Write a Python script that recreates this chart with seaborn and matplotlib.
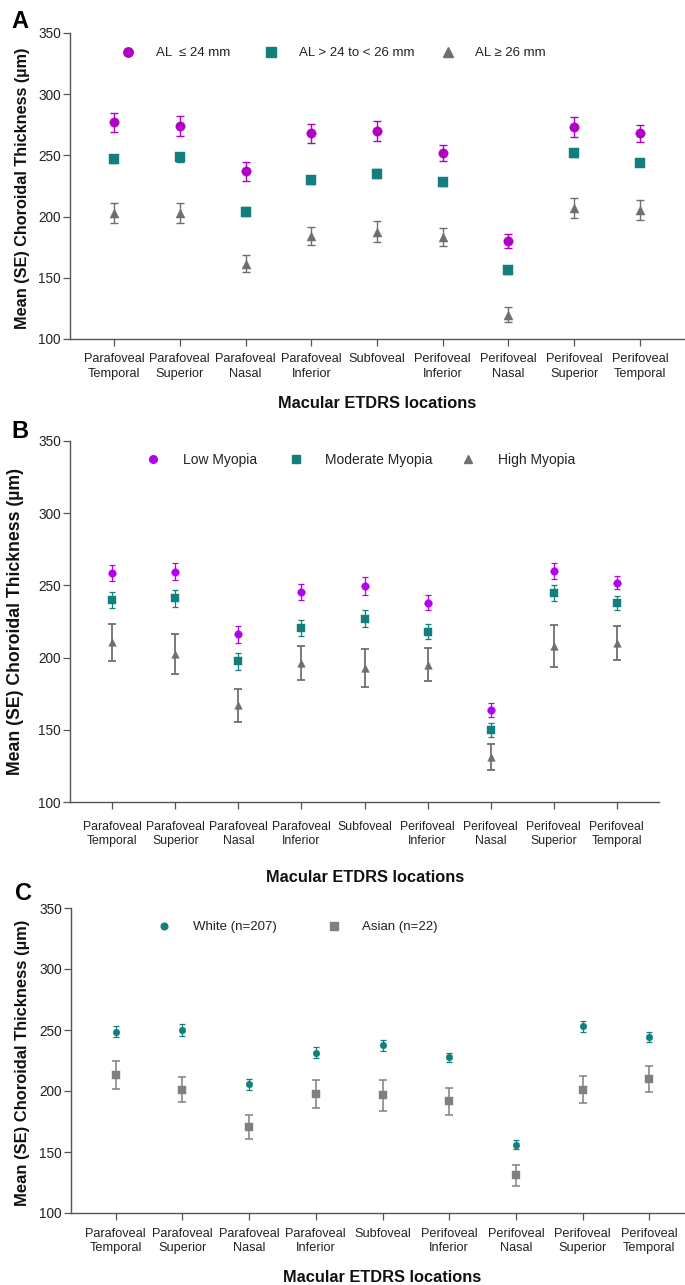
import numpy as np
import pandas as pd
import matplotlib
matplotlib.use("Agg")
import matplotlib.pyplot as plt
import seaborn as sns
from matplotlib import font_manager
from matplotlib.lines import Line2D
from matplotlib.legend import Legend

# ---------------- data ----------------
locations = ["Parafoveal\nTemporal", "Parafoveal\nSuperior", "Parafoveal\nNasal",
             "Parafoveal\nInferior", "Subfoveal", "Perifoveal\nInferior",
             "Perifoveal\nNasal", "Perifoveal\nSuperior", "Perifoveal\nTemporal"]

# Panel A: axial length groups
a_labels = ["AL  ≤ 24 mm", "AL > 24 to < 26 mm", "AL ≥ 26 mm"]
a_short_mean = [277, 274, 237, 268, 270, 252, 180, 273, 268]
a_short_se = [8, 8.5, 7.6, 7.6, 8.3, 6.5, 6, 8, 6.8]
a_mid_mean = [247, 248.5, 204, 230, 235, 228, 156, 252, 244]
a_mid_se = [3.5, 3.5, 3.5, 3.5, 3.5, 3, 3, 3.5, 2.5]
a_long_mean = [203, 203, 161.5, 184, 187.5, 183.5, 120, 207, 205.5]
a_long_se = [8, 8.5, 7, 7.5, 8.5, 7.5, 6, 8.5, 8]

# Panel B: myopia groups
b_labels = ["Low Myopia", "Moderate Myopia", "High Myopia"]
b_low_mean = [258.5, 259.5, 216, 245.5, 249.5, 238, 164, 260, 252]
b_low_se = [5.3, 5.8, 5.8, 5.8, 6, 5.3, 4.9, 5.5, 4.8]
b_mod_mean = [240, 241, 197.5, 220.5, 227, 218, 150, 244.5, 238]
b_mod_se = [5.7, 6, 5.8, 5.5, 6, 5.1, 4.8, 5.5, 4.9]
b_high_mean = [210.5, 202.5, 167, 196.5, 192.5, 195, 131, 208, 210]
b_high_se = [12.9, 14.1, 11.4, 11.7, 13.2, 11.5, 9.1, 14.3, 11.8]

# Panel C: ethnicity
c_labels = ["White (n=207)", "Asian (n=22)"]
c_white_mean = [248.5, 250, 205.5, 231.5, 237.5, 227.5, 156, 253, 244]
c_white_se = [4.5, 4.8, 4.3, 4.5, 4.5, 4, 3.8, 4.6, 4]
c_asian_mean = [213, 201, 170.5, 197.5, 196.5, 191.5, 131, 201, 210]
c_asian_se = [11.3, 10.2, 9.9, 11.3, 12.5, 11, 8.6, 11, 10.5]

# ---------------- style ----------------
MAGENTA = "#b000c4"
VIOLET = "#b300f0"
TEAL = "#127f7f"
GRAY = "#6f6f6f"
GRAY_C = "#808080"

sns.set_theme(style="ticks")
avail = {f.name for f in font_manager.fontManager.ttflist}
NARROW = "Liberation Sans Narrow" if "Liberation Sans Narrow" in avail else "Liberation Sans"
BOLD = "Liberation Sans" if "Liberation Sans" in avail else "DejaVu Sans"
plt.rcParams["font.family"] = [NARROW, "DejaVu Sans"]
SCALE = 1.0 if NARROW == "Liberation Sans" else 1.15

W, H = 685, 1285
fig = plt.figure(figsize=(W / 100, H / 100), dpi=100)
fig.patch.set_facecolor("white")


def add_axes_px(left, right, top, bottom):
    return fig.add_axes([left / W, 1 - bottom / H, (right - left) / W, (bottom - top) / H])


def draw_panel(ax, series, tick_fs, ytick_fs, xpad, linesp):
    x = np.arange(len(locations))
    for means, ses, color, marker, ms, elw, cap in series:
        ax.errorbar(x, means, yerr=ses, fmt="none", ecolor=color, elinewidth=elw,
                    capsize=cap, capthick=elw, zorder=2)
        df = pd.DataFrame({"x": x, "y": means})
        sns.scatterplot(data=df, x="x", y="y", marker=marker, s=ms ** 2, color=color,
                        edgecolor=color, linewidth=0.3, ax=ax, zorder=3, legend=False)
    ax.set_xlim(-0.67, 8.67)
    ax.set_ylim(100, 350)
    ax.set_yticks(np.arange(100, 351, 50))
    ax.set_xticks(x)
    ax.set_xticklabels(locations, fontsize=tick_fs * SCALE, linespacing=linesp,
                       color="#222222")
    ax.tick_params(axis="y", labelsize=ytick_fs * SCALE, length=5, width=0.9, pad=1.5,
                   colors="#555555", labelcolor="#222222")
    ax.tick_params(axis="x", length=4.8, width=0.9, pad=xpad, colors="#555555",
                   labelcolor="#222222")
    ax.set_xlabel("")
    ax.set_ylabel("")
    sns.despine(ax=ax)
    for s in ("left", "bottom"):
        ax.spines[s].set_color("#555555")
        ax.spines[s].set_linewidth(1.0)
    ax.set_facecolor("none")


def add_legend_entry(ax, label, color, marker, ms, mx, tx, y, fs):
    fs = fs * SCALE
    fs_px = fs * 100 / 72
    hl = 1.0
    pad = (tx - mx - hl * fs_px / 2) / fs_px
    h = Line2D([], [], linestyle="none", marker=marker, markersize=ms, color=color,
               markeredgecolor=color)
    leg = Legend(ax, [h], [label], loc="center left",
                 bbox_to_anchor=((mx - hl * fs_px / 2) / W, 1 - y / H),
                 bbox_transform=fig.transFigure, frameon=False, fontsize=fs,
                 handlelength=hl, handletextpad=pad, borderpad=0, borderaxespad=0)
    for t in leg.get_texts():
        t.set_color("#222222")
    ax.add_artist(leg)


# ---------------- Panel A ----------------
axA = add_axes_px(70, 684, 33, 339)
draw_panel(axA, [
    (a_short_mean, a_short_se, MAGENTA, "o", 6.8, 1.0, 3.2),
    (a_mid_mean, a_mid_se, TEAL, "s", 6.5, 1.0, 3.0),
    (a_long_mean, a_long_se, GRAY, "^", 6.5, 1.0, 3.2),
], 9.2, 9.8, 5.5, 1.25)
add_legend_entry(axA, a_labels[0], MAGENTA, "o", 6.8, 128, 156, 53, 9.5)
add_legend_entry(axA, a_labels[1], TEAL, "s", 6.5, 271, 299, 53, 9.5)
add_legend_entry(axA, a_labels[2], GRAY, "^", 6.5, 448, 475, 53, 9.5)

# ---------------- Panel B ----------------
axB = add_axes_px(70, 659, 441, 802)
draw_panel(axB, [
    (b_low_mean, b_low_se, VIOLET, "o", 5.5, 0.9, 2.5),
    (b_mod_mean, b_mod_se, TEAL, "s", 5.5, 0.9, 2.5),
    (b_high_mean, b_high_se, GRAY, "^", 5.5, 1.3, 2.6),
], 8.8, 9.8, 9.0, 1.15)
add_legend_entry(axB, b_labels[0], VIOLET, "o", 5.5, 153, 183, 460, 10)
add_legend_entry(axB, b_labels[1], TEAL, "s", 5.5, 296, 325, 460, 10)
add_legend_entry(axB, b_labels[2], GRAY, "^", 5.5, 468, 498, 460, 10)

# ---------------- Panel C ----------------
axC = add_axes_px(71, 694, 908, 1213)
draw_panel(axC, [
    (c_white_mean, c_white_se, TEAL, "o", 4.8, 0.9, 2.3),
    (c_asian_mean, c_asian_se, GRAY_C, "s", 5.2, 1.1, 2.6),
], 9.2, 9.8, 6.0, 1.25)
add_legend_entry(axC, c_labels[0], TEAL, "o", 4.8, 164, 193, 927, 9.5)
add_legend_entry(axC, c_labels[1], GRAY_C, "s", 5.2, 334, 362, 927, 9.5)

# ---------------- titles, labels, panel letters ----------------
ylab = "Mean (SE) Choroidal Thickness (µm)"
for xc, yc, fs, ty, tcx in [(23, 188, 11.7, 404, 377),
                            (16, 621, 12.7, 877, 365),
                            (23, 1063, 11.9, 1278, 382)]:
    fig.text(xc / W, 1 - yc / H, ylab, rotation=90, ha="center", va="center",
             fontsize=fs, fontweight="bold", family=[BOLD, "DejaVu Sans"], color="#111111")
    fig.text(tcx / W, 1 - ty / H, "Macular ETDRS locations", ha="center", va="center",
             fontsize=11.8, fontweight="bold", family=[BOLD, "DejaVu Sans"], color="#111111")

for letter, lx, ly in [("A", 20, 22), ("B", 20, 432), ("C", 23, 894)]:
    fig.text(lx / W, 1 - ly / H, letter, ha="center", va="center", fontsize=17,
             fontweight="bold", family=[BOLD, "DejaVu Sans"], color="#000000")

fig.savefig("out.png", dpi=100, facecolor="white")
